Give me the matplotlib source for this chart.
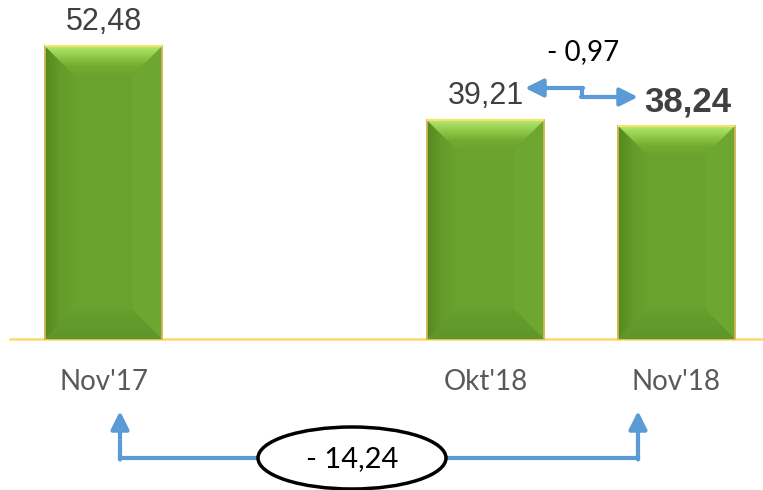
import numpy as np
import matplotlib.pyplot as plt
from matplotlib.patches import Polygon, Ellipse
from matplotlib.colors import LinearSegmentedColormap

# data
categories = ["Nov'17", "", "Okt'18", "Nov'18"]
values = [52.48, np.nan, 39.21, 38.24]
value_labels = ["52,48", "", "39,21", "38,24"]
diff_month = "- 0,97"
diff_year = "- 14,24"

# pixel -> data helpers (layout only)
PX_X = 191.0   # px per category slot
PX_Y = 5.58    # px per value unit
def X(px):
    return (px - 103.5) / PX_X
def Y(py):
    return (339 - py) / PX_Y

fig = plt.figure(figsize=(7.63, 4.90), dpi=100)
ax = fig.add_axes([0, 0, 1, 1])
ax.set_xlim(X(0), X(763))
ax.set_ylim(Y(490), Y(0))
ax.axis('off')

# baseline
ax.plot([X(10), X(763)], [0, 0], color='#FFD966', lw=1.8, zorder=1)

idx = [i for i, v in enumerate(values) if not np.isnan(v)]
bars = ax.bar(idx, [values[i] for i in idx], width=117 / PX_X,
              color='#6AA22E', edgecolor='#D6B95A', linewidth=1.2, zorder=2)

bx = 30 / PX_X
by = 30 / PX_Y
top_cmap = LinearSegmentedColormap.from_list('t', ['#B4E86C', '#92CB4A', '#74AC32', '#6BA32E'])
left_cmap = LinearSegmentedColormap.from_list('l', ['#57891F', '#649B29', '#6AA22E'])
bot_cmap = LinearSegmentedColormap.from_list('b', ['#5F962A', '#669F2D'])
for b in bars:
    x0 = b.get_x()
    x1 = x0 + b.get_width()
    h = b.get_height()
    # left side, dark fading into body
    left = Polygon([(x0, 0), (x0, h), (x0 + bx, h - by), (x0 + bx, by)], closed=True,
                   facecolor='none', edgecolor='none', zorder=3)
    ax.add_patch(left)
    im = ax.imshow(np.linspace(0, 1, 50).reshape(1, -1), cmap=left_cmap, aspect='auto',
                   extent=(x0, x0 + bx, 0, h), zorder=3, interpolation='bilinear')
    im.set_clip_path(left)
    ax.add_patch(Polygon([(x1, 0), (x1, h), (x1 - bx, h - by), (x1 - bx, by)], closed=True,
                         facecolor='#6DA630', edgecolor='none', zorder=3))
    # bottom bevel
    bot = Polygon([(x0, 0), (x1, 0), (x1 - bx, by), (x0 + bx, by)], closed=True,
                  facecolor='none', edgecolor='none', zorder=3)
    ax.add_patch(bot)
    im = ax.imshow(np.linspace(1, 0, 50).reshape(-1, 1), cmap=bot_cmap, aspect='auto',
                   extent=(x0, x1, 0, by), zorder=3, interpolation='bilinear')
    im.set_clip_path(bot)
    # top bevel with gradient
    top = Polygon([(x0, h), (x1, h), (x1 - bx, h - by), (x0 + bx, h - by)], closed=True,
                  facecolor='none', edgecolor='none', zorder=3)
    ax.add_patch(top)
    im = ax.imshow(np.linspace(0, 1, 50).reshape(-1, 1), cmap=top_cmap, aspect='auto',
                   extent=(x0, x1, h - by, h), zorder=3, interpolation='bilinear')
    im.set_clip_path(top)
    # outline
    ax.plot([x0, x0, x1, x1], [0, h, h, 0], color='#D6B95A', lw=1.2, zorder=4)
    ax.plot([x0 + 0.005, x1 - 0.005], [h, h], color='#F3E46C', lw=1.5, zorder=4)

# value labels
for i in idx:
    if i == 3:
        continue
    ax.text(i, values[i] + 4.3, value_labels[i], ha='center', va='center',
            fontsize=22, color='#404040', family='Liberation Sans')
ax.text(X(688), Y(102), value_labels[3], ha='center', va='center',
        fontsize=25, fontweight='bold', color='#404040', family='Liberation Sans')

# category labels
for i in idx:
    ax.text(i, Y(382), categories[i], ha='center', va='center',
            fontsize=20, color='#595959', family='Lato')

blue = '#5B9BD5'
# month change arrow
ax.plot([X(582), X(582)], [Y(88), Y(97)], color=blue, lw=3, solid_capstyle='butt', zorder=5)
ax.annotate('', xy=(X(525), Y(88)), xytext=(X(583), Y(88)),
            arrowprops=dict(arrowstyle='-|>,head_length=0.9,head_width=0.45',
                            color=blue, lw=3, shrinkA=0, shrinkB=0, mutation_scale=12))
ax.annotate('', xy=(X(638), Y(97)), xytext=(X(581), Y(97)),
            arrowprops=dict(arrowstyle='-|>,head_length=0.9,head_width=0.45',
                            color=blue, lw=3, shrinkA=0, shrinkB=0, mutation_scale=12))
ax.text(X(583), Y(52), diff_month, ha='center', va='center', fontsize=20,
        color='black', family='Lato')

# year change bracket
ax.plot([X(120), X(638)], [Y(458), Y(458)], color=blue, lw=3, zorder=5)
for px in (120, 638):
    ax.annotate('', xy=(X(px), Y(411)), xytext=(X(px), Y(459.5)),
                arrowprops=dict(arrowstyle='-|>,head_length=0.9,head_width=0.45',
                                color=blue, lw=3, shrinkA=0, shrinkB=0, mutation_scale=12))
ax.add_patch(Ellipse((X(352), Y(458)), 188 / PX_X, 62 / PX_Y, facecolor='white',
                     edgecolor='black', lw=2.5, zorder=6))
ax.text(X(352), Y(459), diff_year, ha='center', va='center', fontsize=21,
        color='black', family='Lato', zorder=7)

fig.savefig('out.png', dpi=100)
